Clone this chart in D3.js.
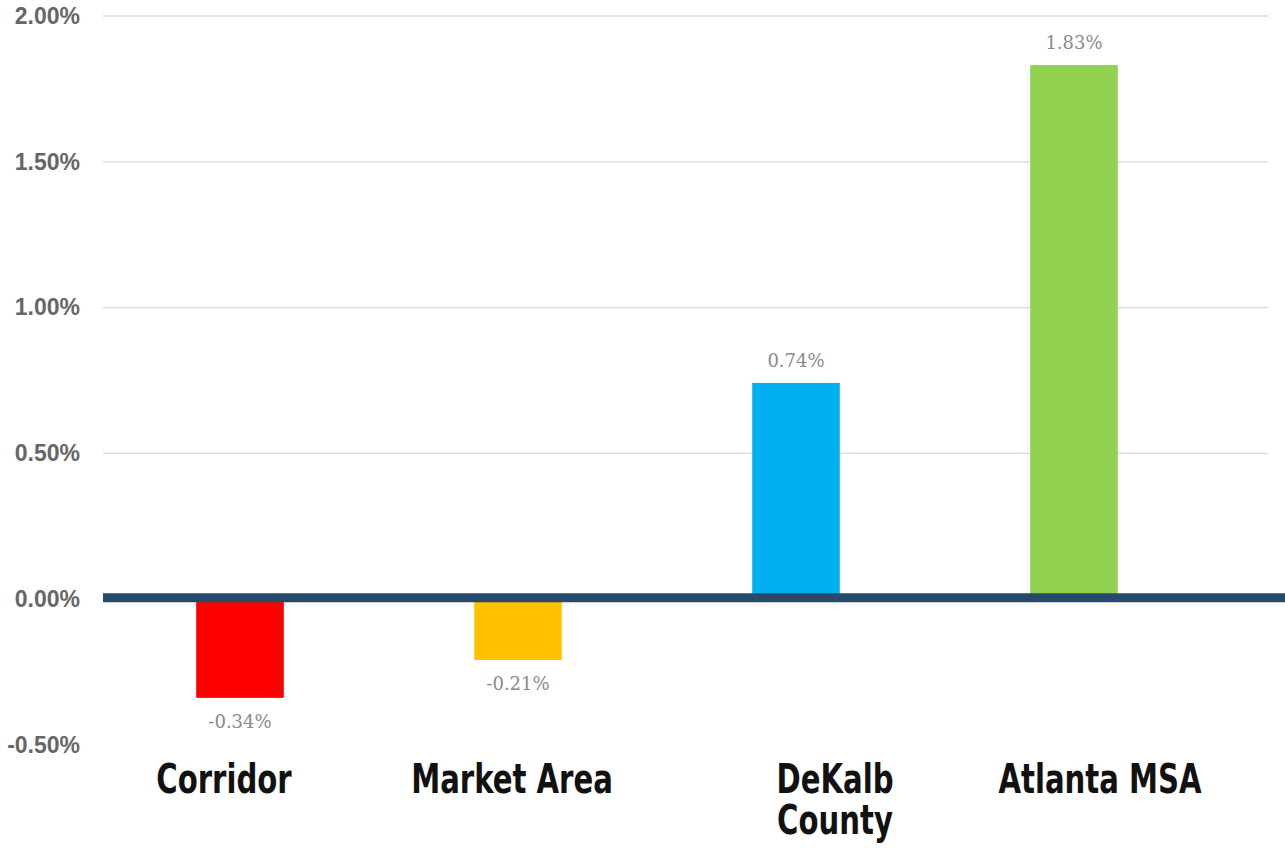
<!DOCTYPE html>
<html>
<head>
<script src="https://d3js.org/d3.v7.min.js"></script>
<style>
  body { margin: 0; background: #fff; }
  .grid line { stroke: #d9d9d9; stroke-width: 1.3; }
  .grid .domain { stroke: none; }
</style>
</head>
<body>
<svg id="chart" width="1285" height="853"></svg>
<script>
// data
const categories = ["Corridor", "Market Area", "DeKalb County", "Atlanta MSA"];
const values = [-0.34, -0.21, 0.74, 1.83];
const colors = ["#ff0000", "#ffc000", "#00b0f0", "#92d050"];
const yTicks = [-0.5, 0, 0.5, 1.0, 1.5, 2.0];

const svg = d3.select("#chart");
const plotLeft = 103, plotRight = 1268;

// scales
const y = d3.scaleLinear().domain([-0.5, 2.0]).range([744.5, 15.5]);
const x = d3.scaleBand().domain(categories).range([101, 1213]).paddingInner(0.685).paddingOuter(0.3425);

// grid lines
svg.append("g")
  .attr("class", "grid")
  .attr("transform", `translate(${plotLeft},0)`)
  .call(d3.axisLeft(y).tickValues(yTicks.filter(d => d > 0)).tickSize(-(plotRight - plotLeft)).tickFormat(""));

// y tick labels
svg.append("g")
  .selectAll("text")
  .data(yTicks)
  .join("text")
  .attr("x", 80)
  .attr("y", d => y(d))
  .attr("dy", "0.36em")
  .attr("text-anchor", "end")
  .style("font-family", "'Liberation Sans', Arial, sans-serif")
  .style("font-weight", "bold")
  .style("font-size", "23px")
  .style("fill", "#666")
  .text(d => d.toFixed(2) + "%");

// bars
svg.append("g")
  .selectAll("rect")
  .data(values)
  .join("rect")
  .attr("x", (d, i) => x(categories[i]))
  .attr("width", x.bandwidth())
  .attr("y", d => y(Math.max(d, 0)))
  .attr("height", d => Math.abs(y(d) - y(0)))
  .attr("fill", (d, i) => colors[i]);

// zero line
svg.append("line")
  .attr("x1", plotLeft).attr("x2", 1285)
  .attr("y1", y(0) - 1).attr("y2", y(0) - 1)
  .attr("stroke", "#274a6b")
  .attr("stroke-width", 9);

// value labels
svg.append("g")
  .selectAll("text")
  .data(values)
  .join("text")
  .attr("x", (d, i) => x(categories[i]) + x.bandwidth() / 2)
  .attr("y", d => d >= 0 ? y(d) - 16 : y(d) + 30)
  .attr("text-anchor", "middle")
  .style("font-family", "'DejaVu Serif', serif")
  .style("font-size", "18px")
  .style("fill", "#8a8a8a")
  .text(d => d.toFixed(2) + "%");

// category labels (text boxes sit a little off the bar centres), squeezed to a narrow face
const labelShift = [-16, -6, 39, 26];
const catLabels = svg.append("g")
  .selectAll("text")
  .data(categories)
  .join("text")
  .attr("transform", (d, i) => `translate(${x(d) + x.bandwidth() / 2 + labelShift[i]},793) scale(0.79,1)`)
  .attr("text-anchor", "middle")
  .style("font-family", "'DejaVu Sans Condensed', 'DejaVu Sans', sans-serif")
  .style("font-weight", "bold")
  .style("font-size", "41px")
  .style("fill", "#111");

catLabels.each(function(d) {
  const words = d === "DeKalb County" ? ["DeKalb", "County"] : [d];
  const t = d3.select(this);
  words.forEach((w, k) => {
    t.append("tspan")
      .attr("x", 0)
      .attr("dy", k === 0 ? 0 : 41)
      .text(w);
  });
});
</script>
</body>
</html>
